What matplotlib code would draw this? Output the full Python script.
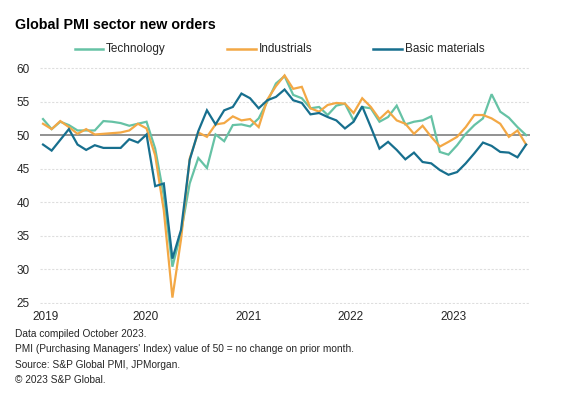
import matplotlib
matplotlib.use("Agg")
import matplotlib.pyplot as plt
from matplotlib.lines import Line2D
import numpy as np

plt.rcParams['font.family'] = ['Liberation Sans', 'DejaVu Sans']

# ---- data (monthly, Jan 2019 - Sep 2023) ----
technology = [52.4, 50.9, 52.0, 51.5, 50.7, 50.7, 50.7, 52.1, 52.0, 51.8, 51.4, 51.7,
              52.0, 48.0, 41.0, 30.4, 35.5, 42.8, 46.6, 45.1, 50.1, 49.1, 51.5, 51.6,
              51.3, 52.5, 55.0, 57.7, 58.8, 56.0, 55.5, 54.0, 54.2, 53.0, 54.4, 54.7,
              52.2, 54.2, 54.0, 52.0, 52.7, 54.4, 51.6, 52.0, 52.2, 52.8, 47.5, 47.1,
              48.5, 50.2, 51.5, 52.5, 56.1, 53.5, 52.6, 51.2, 50.0]
industrials = [51.7, 50.9, 52.1, 51.2, 50.2, 50.9, 50.1, 50.2, 50.3, 50.4, 50.7, 51.7,
               51.0, 47.0, 38.8, 25.8, 34.5, 46.5, 50.4, 49.75, 51.6, 51.8, 52.8, 52.2,
               52.4, 51.2, 55.3, 57.3, 58.9, 56.9, 57.2, 54.0, 53.5, 54.5, 54.8, 54.7,
               53.3, 55.5, 54.2, 52.4, 53.6, 52.2, 51.7, 50.2, 51.4, 49.75, 48.3, 49.0,
               49.75, 51.2, 53.0, 53.0, 52.5, 51.7, 49.75, 50.7, 48.6]
basic_materials = [48.6, 47.7, 49.3, 50.9, 48.6, 47.8, 48.5, 48.1, 48.1, 48.1, 49.4, 48.9,
                   50.1, 42.4, 42.8, 31.6, 35.9, 46.3, 50.6, 53.7, 51.6, 53.7, 54.2, 56.2,
                   55.5, 54.0, 55.2, 55.7, 56.8, 55.2, 54.8, 53.1, 53.3, 52.7, 52.2, 51.0,
                   52.0, 54.3, 51.2, 48.0, 49.0, 47.8, 46.4, 47.4, 46.0, 45.8, 44.8, 44.1,
                   44.5, 45.8, 47.3, 48.9, 48.4, 47.5, 47.4, 46.7, 48.6]
series_names = ['Technology', 'Industrials', 'Basic materials']
year_labels = ['2019', '2020', '2021', '2022', '2023']
y_ticks = [25, 30, 35, 40, 45, 50, 55, 60]

# ---- style ----
colors = ['#66c2a5', '#f3a845', '#176f8e']
W, H = 577, 398
fig = plt.figure(figsize=(W / 100, H / 100), dpi=100)

ax_l, ax_r = 40, 530
ax_top, ax_bot = 66.7, 304.3
ax = fig.add_axes([ax_l / W, (H - ax_bot) / H, (ax_r - ax_l) / W, (ax_bot - ax_top) / H])

x = np.arange(len(technology))
for vals, c, name in zip([technology, industrials, basic_materials], colors, series_names):
    ax.plot(x, vals, color=c, lw=1.6, label=name, solid_joinstyle='miter', zorder=3)

ax.set_xlim(-0.35, 56.45)
ax.set_ylim(24.8, 60.2)
for yv in y_ticks:
    if yv == 50:
        continue
    ax.axhline(yv, color='#dedede', lw=0.8, ls=(0, (2, 1.5)), zorder=1)
ax.axhline(50, color='#7f7f7f', lw=1.2, zorder=2)

for s in ax.spines.values():
    s.set_visible(False)
ax.set_yticks(y_ticks)
ax.set_yticklabels([str(v) for v in y_ticks])
ax.tick_params(axis='y', length=0, pad=7.5, labelsize=8.5, labelcolor='#262626')
year_pos = [0.3, 11.9, 23.8, 35.7, 47.6]
ax.set_xticks(year_pos)
ax.set_xticklabels(year_labels)
ax.tick_params(axis='x', length=0, pad=4.5, labelsize=8.5, labelcolor='#262626')

# title
fig.text(15 / W, 1 - 25 / H, 'Global PMI sector new orders', fontsize=10.3, fontweight='bold',
         color='#000000', va='center', ha='left')

# legend (manual)
leg_y = 1 - 49 / H
for (x0, x1, tx), c, name in zip([(75, 103, 106), (227, 256, 259), (373, 402, 405)], colors, series_names):
    fig.add_artist(Line2D([x0 / W, x1 / W], [leg_y, leg_y], color=c, lw=1.8, transform=fig.transFigure))
    fig.text(tx / W, leg_y, name, fontsize=8.5, color='#262626', va='center', ha='left')

# footnotes
notes = ['Data compiled October 2023.',
         "PMI (Purchasing Managers' Index) value of 50 = no change on prior month.",
         'Source: S&P Global PMI, JPMorgan.',
         '\u00a9 2023 S&P Global.']
for i, t in enumerate(notes):
    fig.text(15 / W, 1 - (334 + i * 15.3) / H, t, fontsize=7.3, color='#262626', va='center', ha='left')

fig.savefig('out.png', dpi=100)
